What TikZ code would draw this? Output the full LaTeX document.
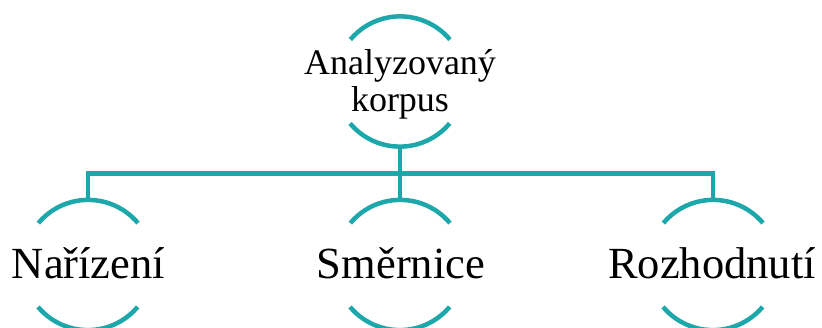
\documentclass[tikz,border=0pt]{standalone}
\usepackage{fontspec}
\setmainfont{Liberation Serif}
\definecolor{teal1}{HTML}{1CA8AB}
\begin{document}
\begin{tikzpicture}[x=1pt,y=1pt,
  ring/.style={circle,minimum size=130pt,inner sep=0pt,draw=none},
  arcs/.style={draw=teal1,line width=4.5pt},
  conn/.style={draw=teal1,line width=4.5pt},
  bigtxt/.style={font=\fontsize{44.5}{48}\selectfont,inner sep=0pt,anchor=base},
  toptxt/.style={font=\fontsize{36}{37}\selectfont,inner sep=0pt,align=center}]
\useasboundingbox (0,0) rectangle (822,328);
\node[ring] (top) at (400,246.5) {};
\node[ring] (n1) at (88,63) {};
\node[ring] (n2) at (400,63) {};
\node[ring] (n3) at (713,63) {};
\foreach \c in {top,n1,n2,n3}{
  \draw[arcs] (\c.40) arc[start angle=40,end angle=140,radius=65pt];
  \draw[arcs] (\c.220) arc[start angle=220,end angle=320,radius=65pt];
}
\coordinate (hb) at (400,154.5);
\draw[conn] (n1.north) |- (hb) -| (n3.north);
\draw[conn] (top.south) -- (n2.north);
\node[toptxt,anchor=base] (t1) at (400,253) {Analyzovaný};
\node[toptxt,anchor=base] (t2) at (400,216) {korpus};
\node[bigtxt] (l1) at (88.5,49) {Nařízení};
\node[bigtxt] (l2) at (401,49) {Směrnice};
\node[bigtxt] (l3) at (712,49) {Rozhodnutí};
\end{tikzpicture}
\end{document}
